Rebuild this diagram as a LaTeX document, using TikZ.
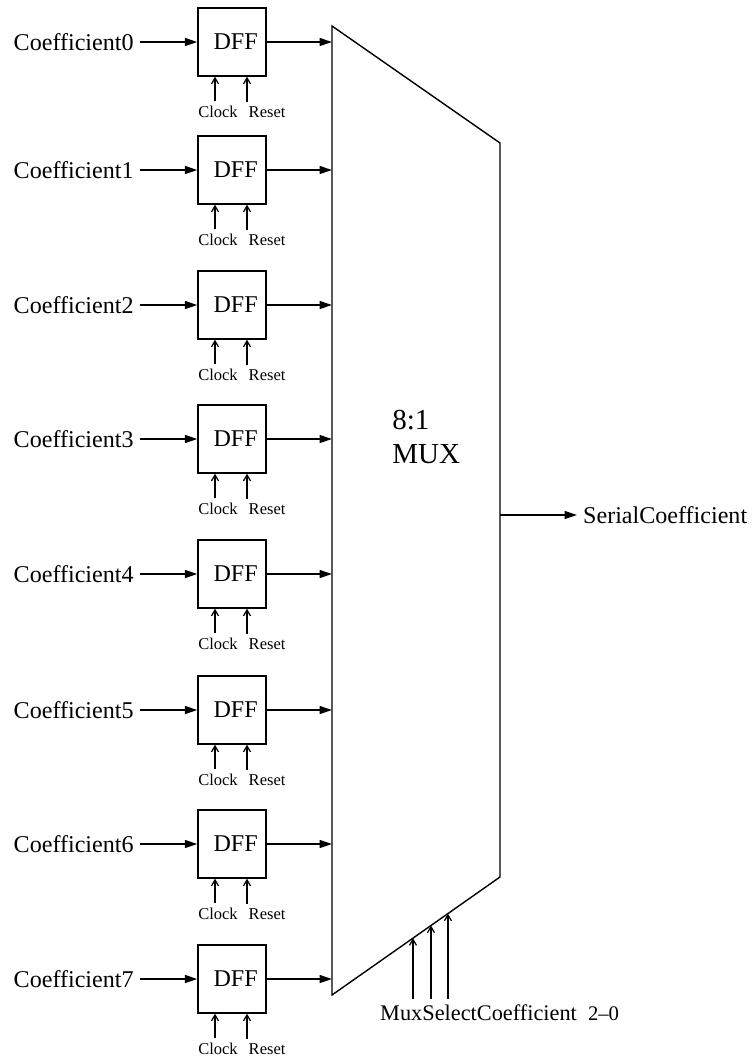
\documentclass[tikz,border=0pt]{standalone}
\usepackage{fontspec}
\setmainfont{Liberation Serif}
\usetikzlibrary{arrows.meta, positioning, calc}

\begin{document}
\begin{tikzpicture}[
    x=0.02cm, y=-0.02cm,
    node distance=1.15cm,
    dff/.style={rectangle, draw=black, line width=0.8pt, minimum width=1.36cm, minimum height=1.36cm, inner sep=0pt, font=\fontsize{13.7}{16}\selectfont},
    coef/.style={font=\fontsize{13.7}{16}\selectfont},
    ctrl/.style={font=\fontsize{9.4}{11}\selectfont, inner sep=2.5pt},
    muxtext/.style={font=\fontsize{16.5}{19.4}\selectfont, align=left, inner sep=0pt},
    seltext/.style={font=\fontsize{12.7}{15}\selectfont},
    arrow/.style={line width=0.8pt, -{Triangle[length=0.25cm, width=0.16cm]}},
    ctrlarrow/.style={line width=0.7pt, -{Straight Barb[length=0.12cm, width=0.14cm]}}
]
    \useasboundingbox (0,0) rectangle (755,1059);

    % the 8:1 multiplexer
    \coordinate (muxtl) at (332,26);
    \coordinate (muxtr) at (500,143);
    \coordinate (muxbr) at (500,877);
    \coordinate (muxbl) at (332,995);
    \draw[line width=0.8pt, line join=miter] (muxtl) -- (muxtr) -- (muxbr) -- (muxbl) -- cycle;
    \node[muxtext, anchor=north west] (muxlabel) at (392,410) {8:1\\MUX};

    % registers
    \foreach \i/\y in {0/42, 1/170, 2/305, 3/439, 4/574, 5/710, 6/844, 7/979} {
        \node[dff] (dff\i) at (232,\y) {\hspace{0.3em}DFF};
        \node[coef, left=1.15cm of dff\i] (coef\i) {Coefficient\i};
        \node[ctrl] (clk\i) at (218,\y+70) {Clock};
        \node[ctrl, anchor=west] (rst\i) at (244,\y+70) {Reset};

        \draw[arrow] (coef\i) -- (dff\i);
        \draw[arrow] (dff\i.east) -- (dff\i.east -| muxtl);
        \draw[ctrlarrow] ([xshift=-0.06cm]clk\i.north) -- ([xshift=-0.06cm]clk\i.north |- dff\i.south);
        \draw[ctrlarrow] ([xshift=0.06cm]rst\i.north west) -- ([xshift=0.06cm]rst\i.north west |- dff\i.south);
    }

    % output
    \node[coef, anchor=west] (serial) at (577,515) {SerialCoefficient};
    \draw[arrow] (serial.west -| muxtr) -- (serial.west);

    % select lines
    \node[seltext, anchor=west] (select) at (374,1013) {MuxSelectCoefficient\hspace{0.5em}{\fontsize{11.8}{14}\selectfont 2--0}};
    \foreach \t [count=\n] in {0.310, 0.411, 0.518} {
        \coordinate (sel\n) at ($(muxbr)!\t!(muxbl)$);
        \draw[ctrlarrow] (sel\n |- select.north) -- (sel\n);
    }

\end{tikzpicture}
\end{document}
